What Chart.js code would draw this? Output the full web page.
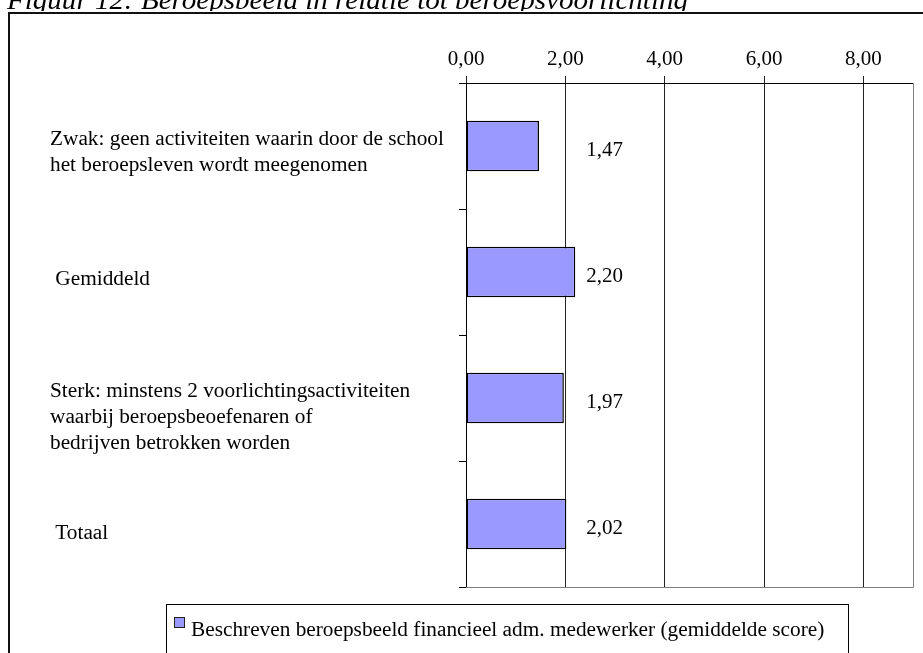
<!DOCTYPE html>
<html>
<head>
<meta charset="utf-8">
<title>Figuur 12</title>
<script src="https://cdn.jsdelivr.net/npm/chart.js@4.4.1/dist/chart.umd.min.js"></script>
<style>
  html, body { margin: 0; padding: 0; background: #fff; }
  #wrap { position: relative; width: 923px; height: 653px; }
</style>
</head>
<body>
<div id="wrap"><canvas id="chart" width="923" height="653"></canvas></div>
<script>
// Gegevens van de grafiek
const titleText = 'Figuur 12: Beroepsbeeld in relatie tot beroepsvoorlichting';
const categories = [
  ['Zwak: geen activiteiten waarin door de school', 'het beroepsleven wordt meegenomen'],
  [' Gemiddeld'],
  ['Sterk: minstens 2 voorlichtingsactiviteiten', 'waarbij beroepsbeoefenaren of', 'bedrijven betrokken worden'],
  [' Totaal']
];
const scores = [1.47, 2.20, 1.97, 2.02];
const seriesLabel = 'Beschreven beroepsbeeld financieel adm. medewerker (gemiddelde score)';
const xTicks = [0, 2, 4, 6, 8];

const serif = "'Liberation Serif', 'Times New Roman', serif";
const fmt = v => Number(v).toFixed(2).replace('.', ',');

// verticale verschuiving van de categorielabels (baseline t.o.v. midden categorie)
const labelShift = [12, 13, 25, 15];

const decor = {
  id: 'decor',
  beforeDraw(chart) {
    const ctx = chart.ctx;
    ctx.save();
    ctx.fillStyle = '#fff';
    ctx.fillRect(0, 0, chart.width, chart.height);
    // titel boven het kader, alleen de onderkant is zichtbaar
    ctx.save();
    ctx.beginPath();
    ctx.rect(0, 0, chart.width, 11);
    ctx.clip();
    ctx.fillStyle = '#000';
    ctx.font = 'italic 28px ' + serif;
    ctx.textBaseline = 'alphabetic';
    const w = ctx.measureText(titleText).width;
    ctx.translate(7, 9);
    ctx.scale(681 / w, 1);
    ctx.fillText(titleText, 0, 0);
    ctx.restore();
    // buitenkader
    ctx.strokeStyle = '#111';
    ctx.lineWidth = 2;
    ctx.strokeRect(9, 13, 2000, 2000);
    ctx.restore();
  },
  afterDraw(chart) {
    const ctx = chart.ctx;
    const area = chart.chartArea;
    const xScale = chart.scales.x;
    const yScale = chart.scales.y;
    ctx.save();

    // rechter- en onderrand van het plotgebied
    ctx.strokeStyle = '#808080';
    ctx.lineWidth = 1;
    ctx.beginPath();
    ctx.moveTo(Math.round(area.right) + 0.5, area.top);
    ctx.lineTo(Math.round(area.right) + 0.5, Math.round(area.bottom) + 0.5);
    ctx.lineTo(area.left, Math.round(area.bottom) + 0.5);
    ctx.stroke();

    // categorielabels
    ctx.fillStyle = '#000';
    ctx.font = '21.3px ' + serif;
    ctx.textAlign = 'left';
    ctx.textBaseline = 'alphabetic';
    categories.forEach((lines, i) => {
      const c = yScale.getPixelForValue(i);
      lines.forEach((t, j) => {
        ctx.fillText(t, yScale.left, c + labelShift[i] + (j - (lines.length - 1) / 2) * 26);
      });
    });

    // waardelabels
    ctx.font = '21px ' + serif;
    const meta = chart.getDatasetMeta(0);
    meta.data.forEach((bar, i) => {
      const x = Math.max(bar.x + 7, xScale.getPixelForValue(2.42));
      ctx.fillText(fmt(scores[i]), x, bar.y + 10);
    });

    // legenda
    const ds = chart.data.datasets[0];
    ctx.strokeStyle = '#000';
    ctx.lineWidth = 1;
    ctx.strokeRect(166.5, 604.5, 682, 100);
    ctx.fillStyle = ds.backgroundColor;
    ctx.fillRect(174, 617, 11, 11);
    ctx.strokeStyle = '#222';
    ctx.strokeRect(174.5, 617.5, 10, 10);
    ctx.fillStyle = '#000';
    ctx.font = '21.3px ' + serif;
    ctx.fillText(ds.label, 191, 636);

    ctx.restore();
  }
};

new Chart(document.getElementById('chart'), {
  type: 'bar',
  data: {
    labels: categories,
    datasets: [{
      label: seriesLabel,
      data: scores,
      backgroundColor: '#9999FF',
      borderColor: '#000',
      borderWidth: 1.5,
      borderSkipped: false,
      barPercentage: 0.4,
      categoryPercentage: 1
    }]
  },
  options: {
    indexAxis: 'y',
    responsive: false,
    animation: false,
    devicePixelRatio: 1,
    layout: { padding: { left: 50, top: 20, right: 10, bottom: 66 } },
    plugins: {
      legend: { display: false },
      tooltip: { enabled: false }
    },
    scales: {
      x: {
        position: 'top',
        min: 0,
        max: 9,
        afterBuildTicks: scale => { scale.ticks = xTicks.map(v => ({ value: v })); },
        afterFit: scale => { scale.height = 63; },
        ticks: {
          callback: v => fmt(v),
          color: '#000',
          font: { family: serif, size: 21 },
          padding: 4,
          maxRotation: 0,
          autoSkip: false
        },
        grid: { color: '#222', tickLength: 7, drawTicks: true },
        border: { color: '#000', width: 1 }
      },
      y: {
        afterFit: scale => { scale.width = 416; },
        ticks: { display: false },
        grid: { drawOnChartArea: false, drawTicks: true, tickLength: 7, color: '#000', offset: true },
        border: { color: '#000', width: 1 }
      }
    }
  },
  plugins: [decor]
});
</script>
</body>
</html>
